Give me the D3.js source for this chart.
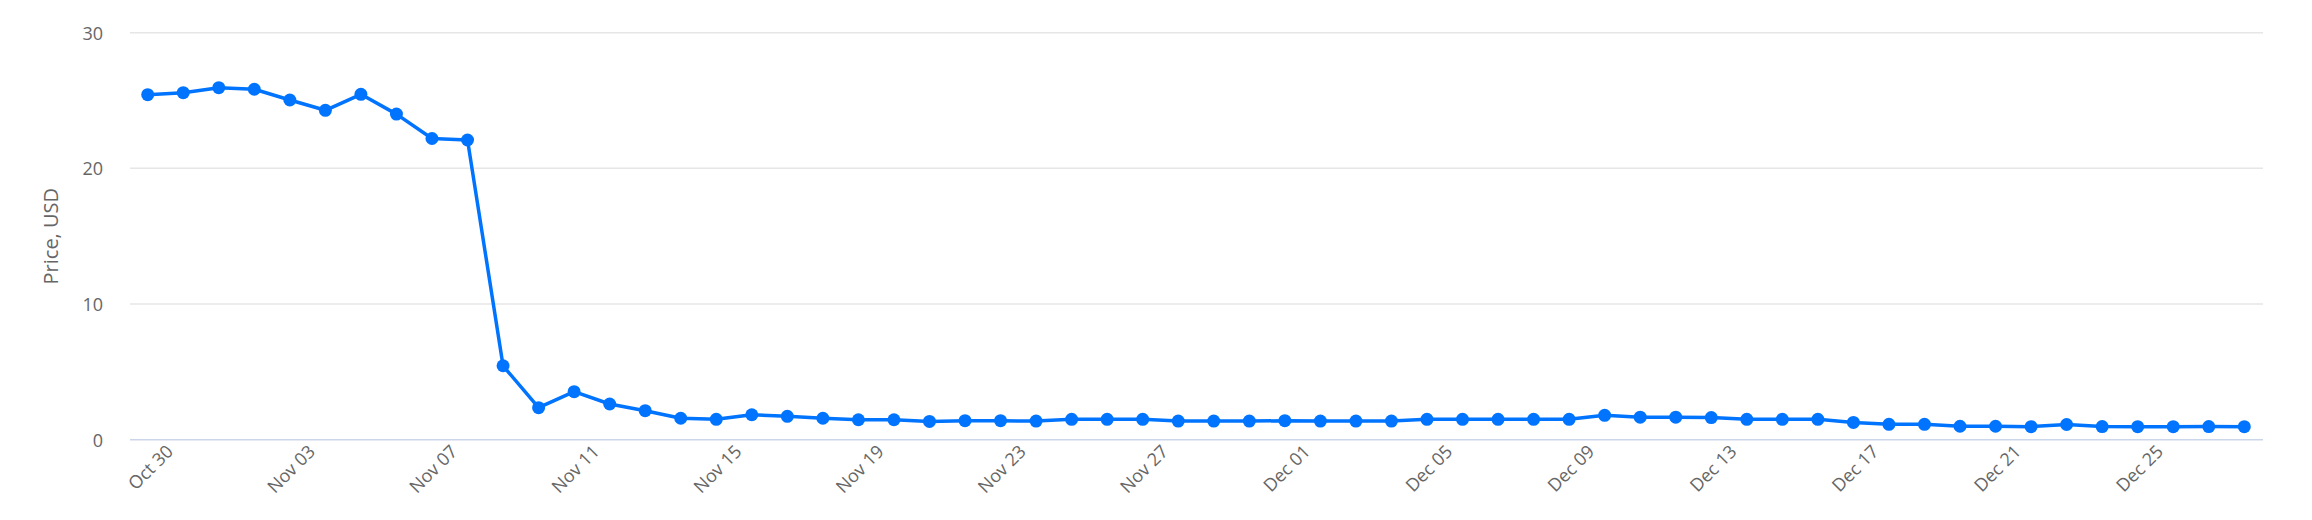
<!DOCTYPE html>
<html>
<head>
<meta charset="utf-8">
<script src="https://cdn.jsdelivr.net/npm/d3@7"></script>
<style>
    body { margin: 0; background: #fff; }
    text { font-family: "Open Sans", "Noto Sans", sans-serif; }
</style>
</head>
<body>
<div id="chart"></div>
<script>
// daily dates, Oct 30 -> Dec 28
let dayLabels = [
    "2022-10-30", "2022-10-31", "2022-11-01", "2022-11-02", "2022-11-03", "2022-11-04",
    "2022-11-05", "2022-11-06", "2022-11-07", "2022-11-08", "2022-11-09", "2022-11-10",
    "2022-11-11", "2022-11-12", "2022-11-13", "2022-11-14", "2022-11-15", "2022-11-16",
    "2022-11-17", "2022-11-18", "2022-11-19", "2022-11-20", "2022-11-21", "2022-11-22",
    "2022-11-23", "2022-11-24", "2022-11-25", "2022-11-26", "2022-11-27", "2022-11-28",
    "2022-11-29", "2022-11-30", "2022-12-01", "2022-12-02", "2022-12-03", "2022-12-04",
    "2022-12-05", "2022-12-06", "2022-12-07", "2022-12-08", "2022-12-09", "2022-12-10",
    "2022-12-11", "2022-12-12", "2022-12-13", "2022-12-14", "2022-12-15", "2022-12-16",
    "2022-12-17", "2022-12-18", "2022-12-19", "2022-12-20", "2022-12-21", "2022-12-22",
    "2022-12-23", "2022-12-24", "2022-12-25", "2022-12-26", "2022-12-27", "2022-12-28"
];

let prices = [
    25.43, 25.58, 25.95, 25.83, 25.04, 24.28, 25.46, 24.0, 22.2, 22.09,
    5.45, 2.36, 3.54, 2.63, 2.14, 1.58, 1.50, 1.84, 1.72, 1.58,
    1.47, 1.47, 1.35, 1.40, 1.40, 1.37, 1.50, 1.50, 1.50, 1.37,
    1.37, 1.37, 1.40, 1.37, 1.37, 1.37, 1.50, 1.50, 1.50, 1.50,
    1.50, 1.80, 1.66, 1.66, 1.63, 1.50, 1.50, 1.50, 1.27, 1.13,
    1.13, 0.99, 0.99, 0.96, 1.12, 0.97, 0.96, 0.96, 0.97, 0.96
];

let xTickLabels = ["2022-10-30", "2022-11-03", "2022-11-07", "2022-11-11", "2022-11-15",
    "2022-11-19", "2022-11-23", "2022-11-27", "2022-12-01", "2022-12-05", "2022-12-09",
    "2022-12-13", "2022-12-17", "2022-12-21", "2022-12-25"];

let yTicks = [0, 10, 20, 30];

let parseDay = d3.timeParse("%Y-%m-%d");
let data = dayLabels.map((d, i) => ({date: parseDay(d), price: prices[i]}));

let width = 2312, height = 520;
let plot = {left: 130, right: 2263, top: 32.7, bottom: 439.7};

let svg = d3.select("#chart").append("svg")
    .attr("width", width)
    .attr("height", height);

let x = d3.scaleTime()
    .domain(d3.extent(data, d => d.date))
    .range([147.7, 2244.3]);

let y = d3.scaleLinear()
    .domain([0, 30])
    .range([plot.bottom, plot.top]);

// grid lines
svg.append("g")
    .selectAll("line")
    .data(yTicks.filter(t => t > 0))
    .enter()
    .append("line")
    .attr("x1", plot.left)
    .attr("x2", plot.right)
    .attr("y1", d => y(d))
    .attr("y2", d => y(d))
    .style("stroke", "#e6e6e6")
    .style("stroke-width", 1.5);

// y axis labels
let yAxis = d3.axisLeft(y).tickValues(yTicks).tickSize(0).tickPadding(0);
svg.append("g")
    .attr("transform", "translate(103,0)")
    .call(yAxis)
    .call(g => g.select(".domain").remove())
    .selectAll("text")
    .attr("dy", "0.35em")
    .style("font-size", "18px")
    .style("fill", "#666666");

// axis title
svg.append("text")
    .attr("transform", `translate(58, ${(plot.top + plot.bottom) / 2}) rotate(-90)`)
    .attr("text-anchor", "middle")
    .style("font-size", "20px")
    .style("fill", "#666666")
    .text("Price, USD");

// x axis
let xAxis = d3.axisBottom(x)
    .tickValues(xTickLabels.map(parseDay))
    .tickFormat(d3.timeFormat("%b %d"))
    .tickSize(0);

let xg = svg.append("g")
    .attr("transform", `translate(0, ${plot.bottom})`)
    .call(xAxis);

xg.select(".domain").remove();
xg.selectAll("text")
    .attr("y", 0)
    .attr("dy", 0)
    .attr("text-anchor", "end")
    .attr("transform", "translate(26, 13) rotate(-45)")
    .style("font-size", "18px")
    .style("fill", "#666666");

svg.append("line")
    .attr("x1", plot.left)
    .attr("x2", plot.right)
    .attr("y1", plot.bottom)
    .attr("y2", plot.bottom)
    .style("stroke", "#ccd6eb")
    .style("stroke-width", 1.5);

// series
let line = d3.line()
    .x(d => x(d.date))
    .y(d => y(d.price));

svg.append("path")
    .datum(data)
    .attr("d", line)
    .style("fill", "none")
    .style("stroke", "#0074ff")
    .style("stroke-width", 3.5)
    .style("stroke-linejoin", "round");

svg.append("g")
    .selectAll("circle")
    .data(data)
    .enter()
    .append("circle")
    .attr("cx", d => x(d.date))
    .attr("cy", d => y(d.price))
    .attr("r", 6.5)
    .style("fill", "#0074ff");
</script>
</body>
</html>
